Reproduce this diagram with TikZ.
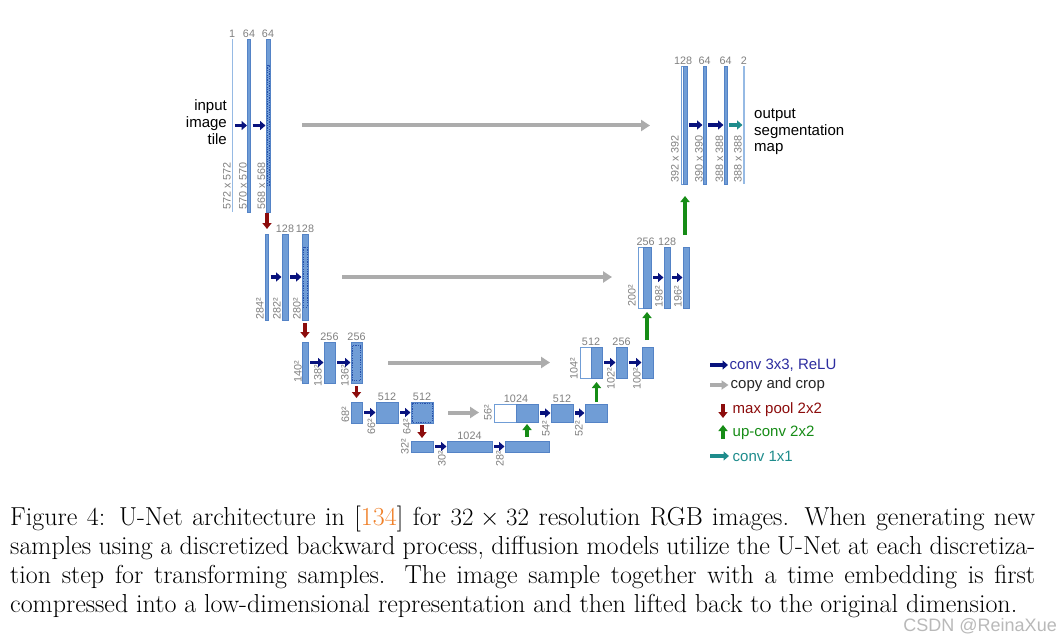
\documentclass[tikz,border=0pt]{standalone}
\usepackage{fontspec}
\usetikzlibrary{arrows.meta,fit}
\newfontfamily\diagfont{Liberation Sans}
\definecolor{barfill}{RGB}{112,157,214}
\definecolor{barline}{RGB}{84,131,198}
\definecolor{barthin}{RGB}{150,186,228}
\definecolor{convblue}{RGB}{8,18,125}
\definecolor{convtext}{RGB}{45,45,160}
\definecolor{poolred}{RGB}{140,12,12}
\definecolor{upgreen}{RGB}{22,140,22}
\definecolor{oneteal}{RGB}{30,140,140}
\definecolor{copygray}{RGB}{172,172,172}
\definecolor{dimgray}{RGB}{128,128,128}
\definecolor{citeorange}{RGB}{240,128,40}
\definecolor{cropblue}{RGB}{40,80,170}
\definecolor{markgray}{RGB}{185,185,185}
\newcommand\dimfont{\diagfont\fontsize{10.8pt}{12pt}\selectfont}
\newcommand\txtfont{\diagfont\fontsize{15pt}{16.7pt}\selectfont}
\begin{document}
\begin{tikzpicture}[x=1pt,y=-1pt,
  fbar/.style={fill=barfill,draw=barline,line width=0.4pt,inner sep=0pt,outer sep=0pt},
  wbar/.style={fill=white,draw=barfill,line width=0.7pt,inner sep=0pt,outer sep=0pt},
  tbar/.style={fill=barthin,inner sep=0pt,outer sep=0pt},
  cropline/.style={draw=cropblue,line width=0.6pt,dash pattern=on 1.2pt off 1.2pt},
  ch/.style={font=\dimfont,text=dimgray,anchor=south,inner sep=1pt},
  sz/.style={font=\dimfont,text=dimgray,rotate=90,anchor=west,inner sep=0pt},
  conv/.style={draw=convblue,line width=3.5pt,-{Triangle[length=5.5pt,width=9pt]},shorten <=2pt,shorten >=0.5pt},
  onebyone/.style={conv,draw=oneteal},
  copyarrow/.style={draw=copygray,line width=4pt,-{Triangle[length=9pt,width=11pt]}},
  pool/.style={draw=poolred,line width=3.5pt,-{Triangle[length=6pt,width=9pt]}},
  upconv/.style={draw=upgreen,line width=3.5pt,-{Triangle[length=6pt,width=9pt]}},
  legtext/.style={font=\txtfont,anchor=west,inner sep=0.5pt}
]
\fill[white] (0,0) rectangle (1062,639);
\useasboundingbox (0,0) rectangle (1062,639);

% ---------- contracting path ----------
\node[tbar,fit={(231.5,39) (233,212)}] (a1) {};
\node[fbar,fit={(247.5,39) (250.5,212)}] (a2) {};
\node[fbar,fit={(266,39) (270,212)}] (a3) {};
\draw[cropline] (266.8,65) rectangle (269.2,185);

\node[fbar,fit={(265.5,234) (268.5,320)}] (b1) {};
\node[fbar,fit={(282,234) (288,320)}] (b2) {};
\node[fbar,fit={(302,234) (308,320)}] (b3) {};
\draw[cropline] (303.2,247) rectangle (306.8,307);

\node[fbar,fit={(302,342) (308,383)}] (c1) {};
\node[fbar,fit={(324,342) (335,383)}] (c2) {};
\node[fbar,fit={(351,342) (362,383)}] (c3) {};
\draw[cropline] (352.3,345.5) rectangle (360.7,380);

\node[fbar,fit={(351,402) (362,423)}] (d1) {};
\node[fbar,fit={(376,402) (398,423)}] (d2) {};
\node[fbar,fit={(411,402) (433,423)}] (d3) {};
\draw[cropline] (412.2,403.5) rectangle (431.8,421.8);

% ---------- bottom ----------
\node[fbar,fit={(411,441) (433,452)}] (e1) {};
\node[fbar,fit={(447,441) (492,452)}] (e2) {};
\node[fbar,fit={(505,441) (549,452)}] (e3) {};

% ---------- expansive path ----------
\node[wbar,fit={(494,404) (516,422)}] (f0) {};
\node[fbar,fit={(516,404) (538,422)}] (f1) {};
\node[fbar,fit={(551,404) (573,422)}] (f2) {};
\node[fbar,fit={(585,404) (607,422)}] (f3) {};

\node[wbar,fit={(580,347) (591,378)}] (g0) {};
\node[fbar,fit={(591,347) (602,378)}] (g1) {};
\node[fbar,fit={(616,347) (627,378)}] (g2) {};
\node[fbar,fit={(642,347) (653,378)}] (g3) {};

\node[wbar,fit={(638,247) (643,308)}] (h0) {};
\node[fbar,fit={(643,247) (651,308)}] (h1) {};
\node[fbar,fit={(664,247) (670,308)}] (h2) {};
\node[fbar,fit={(683,247) (689,308)}] (h3) {};

\node[wbar,fit={(681,66) (683,184)}] (k0) {};
\node[fbar,fit={(683,66) (687,184)}] (k1) {};
\node[fbar,fit={(703,66) (706,184)}] (k2) {};
\node[fbar,fit={(724,66) (727,184)}] (k3) {};
\node[tbar,fit={(743,66) (744.5,184)}] (k4) {};

% ---------- channel counts ----------
\node[ch] (n1) at (a1.north) {1};
\node[ch] (n2) at (a2.north) {64};
\node[ch] (n3) at (a3.north) {64};
\node[ch] (n4) at (b2.north) {128};
\node[ch] (n5) at (b3.north) {128};
\node[ch] (n6) at (c2.north) {256};
\node[ch] (n7) at (c3.north) {256};
\node[ch] (n8) at (d2.north) {512};
\node[ch] (n9) at (d3.north) {512};
\node[ch] (n10) at (e2.north) {1024};
\node[ch] (n11) at (f0.north east) {1024};
\node[ch] (n12) at (f2.north) {512};
\node[ch] (n13) at (g0.north east) {512};
\node[ch] (n14) at (g2.north) {256};
\node[ch,xshift=-1.5pt] (n15) at (h1.north) {256};
\node[ch] (n16) at (h2.north) {128};
\node[ch] (n17) at (k0.north east) {128};
\node[ch] (n18) at (k2.north) {64};
\node[ch] (n19) at (k3.north) {64};
\node[ch] (n20) at (k4.north) {2};

% ---------- feature map sizes ----------
\node[sz] (s1) at (227,210) {572 x 572};
\node[sz] (s2) at (243,210) {570 x 570};
\node[sz] (s3) at (261.5,210) {568 x 568};
\node[sz] (s4) at (260,320) {284²};
\node[sz] (s5) at (277,320) {282²};
\node[sz] (s6) at (297,320) {280²};
\node[sz] (s7) at (298,383) {140²};
\node[sz] (s8) at (318,387) {138²};
\node[sz] (s9) at (345,387) {136²};
\node[sz] (s10) at (345.5,423) {68²};
\node[sz] (s11) at (371.5,435) {66²};
\node[sz] (s12) at (407,435) {64²};
\node[sz] (s13) at (405,455) {32²};
\node[sz] (s14) at (442,467) {30²};
\node[sz] (s15) at (500,467) {28²};
\node[sz] (s16) at (488,421) {56²};
\node[sz] (s17) at (546,437) {54²};
\node[sz] (s18) at (579,437) {52²};
\node[sz] (s19) at (574,380) {104²};
\node[sz] (s20) at (611,390) {102²};
\node[sz] (s21) at (637,390) {100²};
\node[sz] (s22) at (632,307) {200²};
\node[sz] (s23) at (659,308) {198²};
\node[sz] (s24) at (678,308) {196²};
\node[sz] (s25) at (675,183) {392 x 392};
\node[sz] (s26) at (699,183) {390 x 390};
\node[sz] (s27) at (719.5,183) {388 x 388};
\node[sz] (s28) at (738,183) {388 x 388};

% ---------- conv 3x3 arrows ----------
\draw[conv] (a1.east) -- (a2.west);
\draw[conv] (a2.east) -- (a3.west);
\draw[conv] (b1.east) -- (b2.west);
\draw[conv] (b2.east) -- (b3.west);
\draw[conv] (c1.east) -- (c2.west);
\draw[conv] (c2.east) -- (c3.west);
\draw[conv] (d1.east) -- (d2.west);
\draw[conv] (d2.east) -- (d3.west);
\draw[conv] (e1.east) -- (e2.west);
\draw[conv] (e2.east) -- (e3.west);
\draw[conv] (f1.east) -- (f2.west);
\draw[conv] (f2.east) -- (f3.west);
\draw[conv] (g1.east) -- (g2.west);
\draw[conv] (g2.east) -- (g3.west);
\draw[conv] (h1.east) -- (h2.west);
\draw[conv] (h2.east) -- (h3.west);
\draw[conv] (k1.east) -- (k2.west);
\draw[conv] (k2.east) -- (k3.west);
\draw[onebyone] (k3.east) -- (k4.west);

% ---------- copy and crop ----------
\draw[copyarrow,shorten <=32pt,shorten >=31pt] (a3.east) -- (a3.east -| k0.west);
\draw[copyarrow,shorten <=34pt,shorten >=26pt] (b3.east) -- (b3.east -| h0.west);
\draw[copyarrow,shorten <=26pt,shorten >=30pt] (c3.east) -- (c3.east -| g0.west);
\draw[copyarrow,shorten <=15pt,shorten >=15pt] (d3.east) -- (d3.east -| f0.west);

% ---------- max pool ----------
\draw[pool,shorten <=1pt,shorten >=5pt] (b1.north |- a3.south) -- (b1.north);
\draw[pool,shorten <=3pt,shorten >=4pt] (b3.south) -- (c1.north);
\draw[pool,shorten <=3pt,shorten >=4pt] (c3.south) -- (d1.north);
\draw[pool,shorten <=2pt,shorten >=3pt] (d3.south) -- (e1.north);

% ---------- up-conv ----------
\draw[upconv,shorten <=4pt,shorten >=2pt] (f1.south |- e3.north) -- (f1.south);
\draw[upconv,shorten <=2pt,shorten >=4pt] (g1.south |- f3.north) -- (g1.south);
\draw[upconv,shorten <=7pt,shorten >=4pt] (h1.south |- g3.north) -- (h1.south);
\draw[upconv,shorten <=12pt,shorten >=12pt] (k1.south |- h3.north) -- (k1.south);

% ---------- input / output text ----------
\node[font=\txtfont,align=right,anchor=east,inner sep=0pt] (inp) at (227,122) {input\\image\\tile};
\node[font=\txtfont,align=left,anchor=west,inner sep=0pt] (outp) at (754,132) {output\\segmentation\\map};

% ---------- legend ----------
\node[legtext,text=convtext] (lg1) at (729,365) {conv 3x3, ReLU};
\node[legtext,text=black!85] (lg2) at (730,385) {copy and crop};
\node[legtext,text=poolred] (lg3) at (732,410) {max pool 2x2};
\node[legtext,text=upgreen] (lg4) at (732,433) {up-conv 2x2};
\node[legtext,text=oneteal] (lg5) at (732,456) {conv 1x1};
\coordinate (lk1) at (710,365);
\coordinate (lk2) at (710,385);
\coordinate (lk3a) at (723,404);
\coordinate (lk3b) at (723,418);
\coordinate (lk4a) at (723,439);
\coordinate (lk4b) at (723,425);
\coordinate (lk5) at (710,456);
\draw[conv,shorten <=0pt,shorten >=1pt] (lk1) -- (lg1.west);
\draw[copyarrow,line width=3.5pt,-{Triangle[length=7pt,width=9pt]},shorten >=1.5pt] (lk2) -- (lg2.west);
\draw[pool] (lk3a) -- (lk3b);
\draw[upconv] (lk4a) -- (lk4b);
\draw[onebyone,shorten <=0pt,shorten >=3pt] (lk5) -- (lg5.west);

% ---------- caption ----------
\node[anchor=base west,inner sep=0pt,font=\fontsize{26pt}{29pt}\selectfont] (cap) at (10,525) {\parbox[t]{1025pt}{%
\hbox to 1025pt{Figure 4: U-Net architecture in [{\color{citeorange}134}] for $32 \times 32$ resolution RGB images. When generating new}
\hbox to 1025pt{samples using a discretized backward process, diffusion models utilize the U-Net at each discretiza-}
\hbox to 1025pt{tion step for transforming samples. The image sample together with a time embedding is first}
\hbox{compressed into a low-dimensional representation and then lifted back to the original dimension.}}};

\node[anchor=base east,inner sep=0pt,font=\diagfont\fontsize{18pt}{19pt}\selectfont,text=markgray] (wm) at (1057,631) {CSDN @ReinaXue};
\end{tikzpicture}
\end{document}
